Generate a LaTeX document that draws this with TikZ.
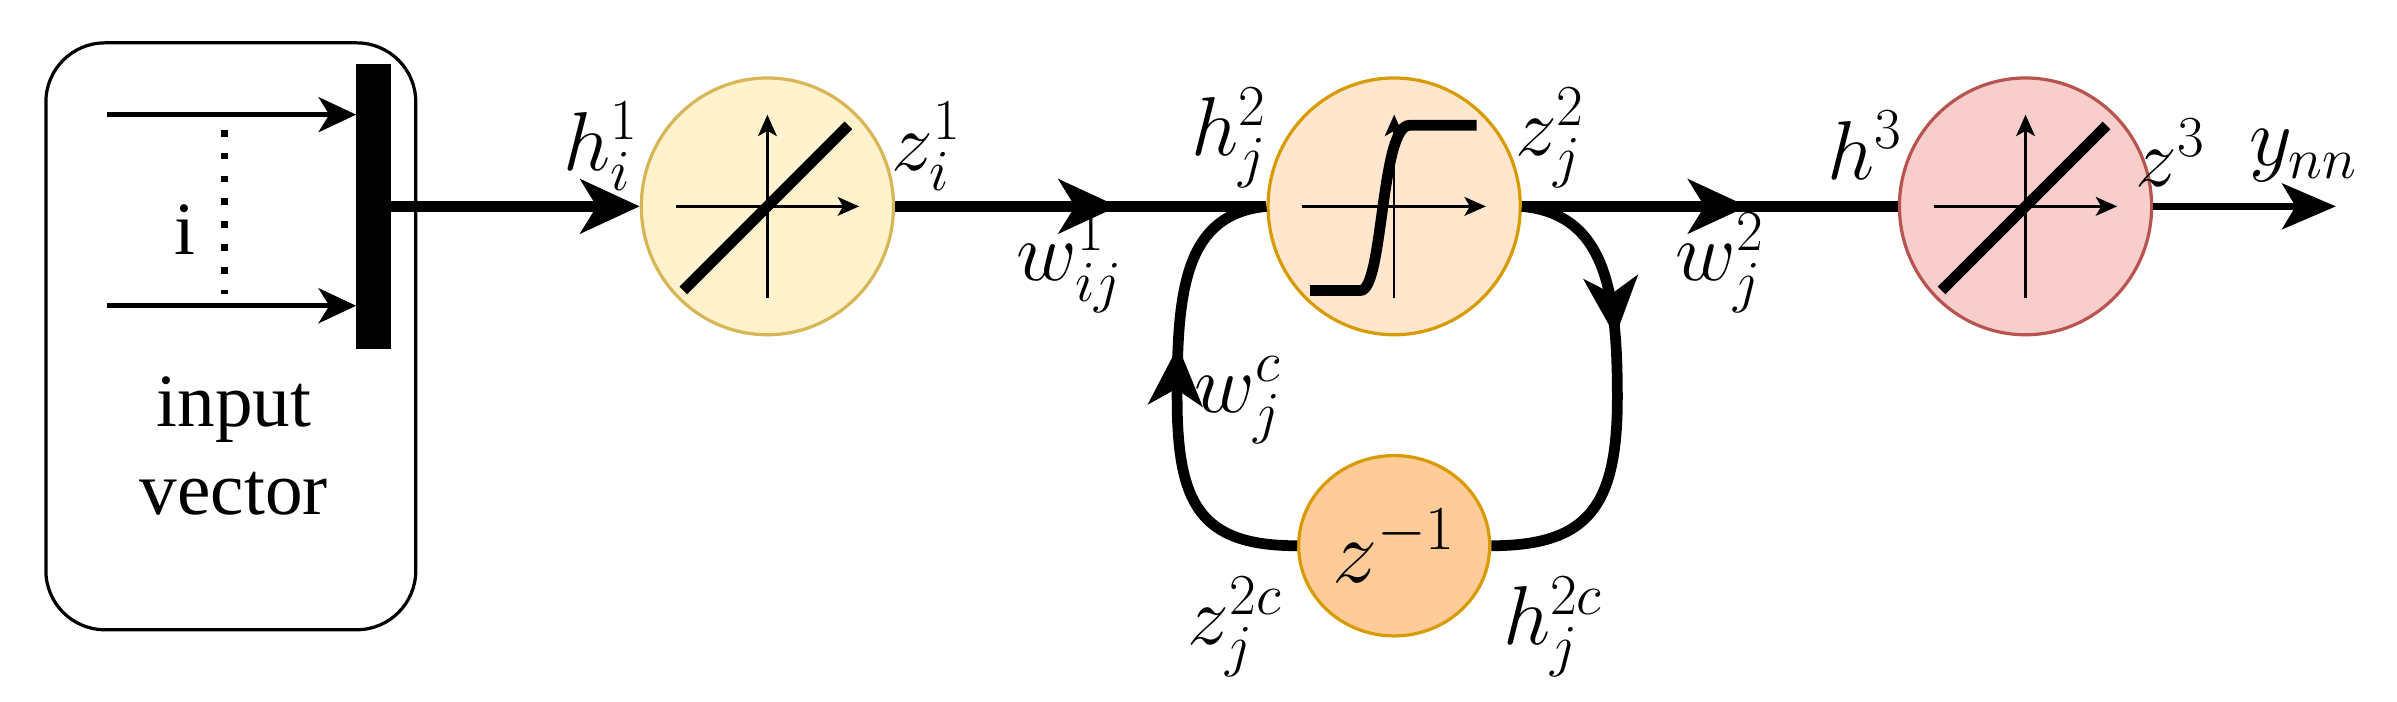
\documentclass[tikz,border=0pt]{standalone}
\usepackage{fontspec}
\setmainfont{Liberation Serif}
\usetikzlibrary{arrows.meta,decorations.markings,shapes.geometric}
\definecolor{c1f}{HTML}{FFF2CC}\definecolor{c1d}{HTML}{D6B656}
\definecolor{c2f}{HTML}{FFE6CC}\definecolor{c2d}{HTML}{D79B00}
\definecolor{c3f}{HTML}{F8CECC}\definecolor{c3d}{HTML}{B85450}
\definecolor{c4f}{HTML}{FFCC99}
\begin{document}
\begin{tikzpicture}[x=0.02cm,y=-0.02cm,
  neuron/.style={ellipse,draw,line width=1.2pt,minimum width=3.3cm,minimum height=3.36cm,inner sep=0pt},
  big/.style={line width=4pt},
  bigtip/.style={-{Stealth[length=22pt,width=20pt,inset=6pt]}},
  midarrow/.style={postaction={decorate},decoration={markings,mark=at position #1 with {\arrow{Stealth[length=22pt,width=20pt,inset=6pt]}}}},
  axis/.style={line width=0.9pt,-{Stealth[length=8pt,width=7pt,inset=2pt]}},
  lbl/.style={font=\fontsize{24}{28}\selectfont,inner sep=0pt,scale=1.25},
  txt/.style={font=\fontsize{28}{32}\selectfont,inner sep=0pt}]
\useasboundingbox (0,0) rectangle (1568,459);
% input box
\node[draw,line width=1.2pt,rounded corners=22pt,minimum width=4.84cm,minimum height=7.68cm] (box) at (151,220) {};
\fill (233,42) rectangle (256,228);
\coordinate (bar) at (256,135);
\coordinate (a1s) at (70,75); \coordinate (a1e) at (233,75);
\coordinate (a2s) at (70,200); \coordinate (a2e) at (233,200);
\draw[line width=2pt,-{Stealth[length=14pt,width=13pt,inset=4pt]}] (a1s) -- (a1e);
\draw[line width=2pt,-{Stealth[length=14pt,width=13pt,inset=4pt]}] (a2s) -- (a2e);
\coordinate (d1) at (147,85); \coordinate (d2) at (147,192);
\draw[line width=2.5pt,dash pattern=on 2.5pt off 6pt] (d1) -- (d2);
\node[txt] (i) at (121,150) {i};
\node[txt] (inp) at (153,268) {input};
\node[txt] (vec) at (153,323) {vector};
% neurons
\node[neuron,fill=c1f,draw=c1d] (n1) at (502,135) {};
\node[neuron,fill=c2f,draw=c2d] (n2) at (912,135) {};
\node[neuron,fill=c3f,draw=c3d] (n3) at (1325,135) {};
\node[neuron,fill=c4f,draw=c2d,minimum width=2.5cm,minimum height=2.36cm] (n4) at (912,357) {\scalebox{1.35}{\fontsize{24}{28}\selectfont$z^{-1}$}};
% inner plots
\foreach \n/\cx in {n1/502,n2/912,n3/1325}{
  \draw[axis] (\cx-60,135) -- (\cx+60,135);
  \draw[axis] (\cx,195) -- (\cx,75);
}
\draw[line width=4pt] (447,190) -- (555,82);
\draw[line width=4pt] (1270,190) -- (1378,82);
\draw[line width=4pt] (857,190) -- (890,190) .. controls (905,190) and (903,82) .. (922,82) -- (966,82);
% connectors
\draw[big,bigtip] (bar) -- (n1.west);
\draw[big,midarrow=0.6] (n1.east) -- (n2.west);
\draw[big,midarrow=0.6] (n2.east) -- (n3.west);
\coordinate (out) at (1528,135);
\draw[line width=2.5pt,-{Stealth[length=20pt,width=17pt,inset=5pt]}] (n3.east) -- (out);
\draw[big,midarrow=0.38] (n2.east) .. controls (1050,140) and (1058,190) .. (1058,260) .. controls (1058,330) and (1040,357) .. (n4.east);
\draw[big,midarrow=0.6] (n4.west) .. controls (785,357) and (770,330) .. (770,260) .. controls (770,190) and (775,140) .. (n2.west);
% labels
\node[lbl] (l1) at (393,96) {$h_i^1$};
\node[lbl] (l2) at (606,96) {$z_i^1$};
\node[lbl] (l3) at (700,172) {$w_{ij}^1$};
\node[lbl] (l4) at (804,90) {$h_j^2$};
\node[lbl] (l5) at (1014,90) {$z_j^2$};
\node[lbl] (l6) at (1125,172) {$w_j^2$};
\node[lbl] (l7) at (1220,95) {$h^3$};
\node[lbl] (l8) at (1420,100) {$z^3$};
\node[lbl] (l9) at (1507,102) {$y_{nn}$};
\node[lbl] (l10) at (810,262) {$w_j^c$};
\node[lbl] (l11) at (808,410) {$z_j^{2c}$};
\node[lbl] (l12) at (1016,410) {$h_j^{2c}$};
\end{tikzpicture}
\end{document}
